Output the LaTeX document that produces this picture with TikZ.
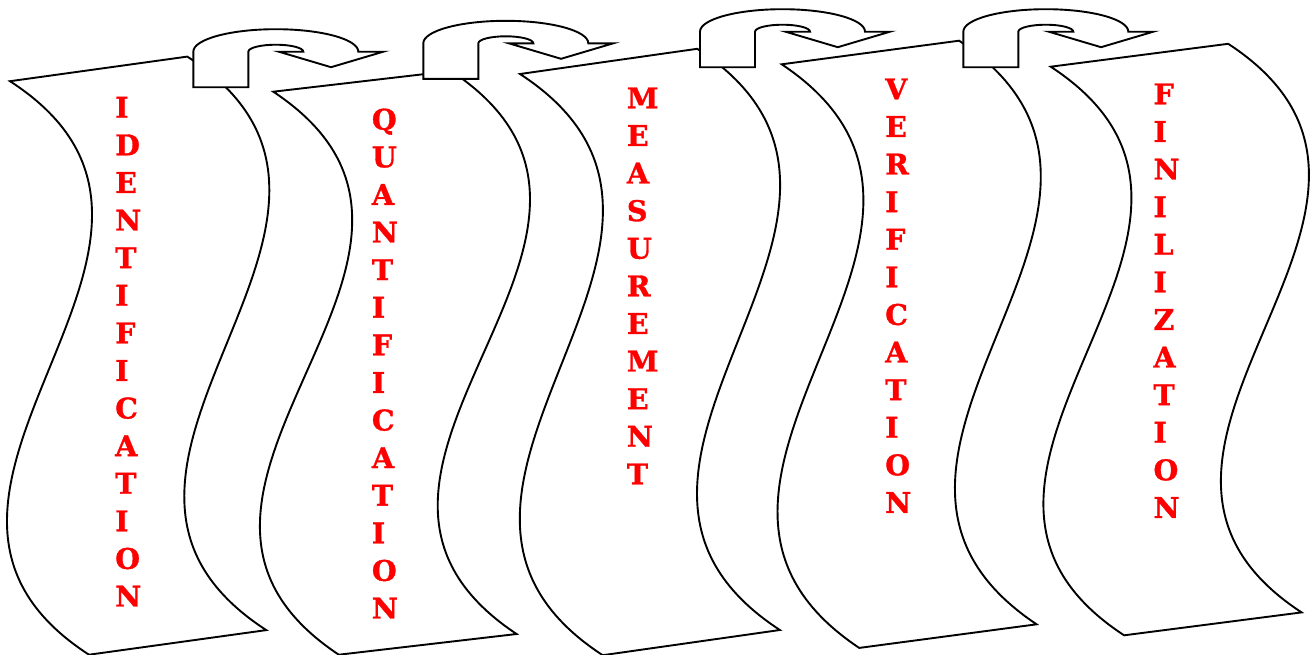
\documentclass[tikz,border=0pt]{standalone}
\usepackage{fontspec}
\newfontfamily\wordfont{DejaVu Serif}[BoldFeatures={FakeBold=1.2}]
\begin{document}
\begin{tikzpicture}[x=1pt,y=-1pt,
  bannerbox/.style={draw=black,fill=white,line width=1.9pt,line join=miter},
  uturn/.style={draw=black,fill=white,line width=1.9pt,line join=miter},
  word/.style={anchor=north west,inner sep=0pt,align=left,text=red,
    font={\wordfont\bfseries\fontsize{28.5}{37.6}\selectfont}}]
\useasboundingbox (0,0) rectangle (1313,654);
% banners: top-left corner, top vector u, down chord v
\foreach \tx/\ty/\ux/\uy/\vx/\vy in {
  10/81.2/177.3/-24.6/79.0/573.5,
  273.3/91.7/177.8/-20.7/65.5/563.0,
  520/74/177.2/-25.2/82.7/581.2,
  781.7/64.3/177.4/-23.6/77.5/583.6,
  1050.7/66.7/177.5/-22.9/73.4/568.6}{
  \path[bannerbox] (\tx,\ty)
    .. controls ({\tx+\vx/3+1.2486*(\ux)},{\ty+\vy/3+1.2486*(\uy)})
       and ({\tx+2*\vx/3-1.2486*(\ux)},{\ty+2*\vy/3-1.2486*(\uy)})
    .. ({\tx+\vx},{\ty+\vy})
    -- ({\tx+\vx+\ux},{\ty+\vy+\uy})
    .. controls ({\tx+\ux+2*\vx/3-1.2486*(\ux)},{\ty+\uy+2*\vy/3-1.2486*(\uy)})
       and ({\tx+\ux+\vx/3+1.2486*(\ux)},{\ty+\uy+\vy/3+1.2486*(\uy)})
    .. ({\tx+\ux},{\ty+\uy}) -- cycle;
}
% u-turn arrows
\foreach \ax/\ab in {193.3/51.7, 423.3/43.3, 700/31.7, 963.3/31.7}{
  \path[uturn] (\ax,\ab) -- ++(0,35.5) -- ++(55,0) -- ++(0,-35.5)
    arc[start angle=180,end angle=360,x radius=27.5,y radius=7]
    -- ++(-24.5,0) -- ++(52.25,15.5) -- ++(52.25,-15.5) -- ++(-25,0)
    arc[start angle=0,end angle=-180,x radius=82.5,y radius=22.5] -- cycle;
}
\node[word] (w1) at (115,96.7) {I\\D\\E\\N\\T\\I\\F\\I\\C\\A\\T\\I\\O\\N};
\node[word] (w2) at (371.7,108.3) {Q\\U\\A\\N\\T\\I\\F\\I\\C\\A\\T\\I\\O\\N};
\node[word] (w3) at (626.7,87.3) {M\\E\\A\\S\\U\\R\\E\\M\\E\\N\\T};
\node[word] (w4) at (885,78.3) {V\\E\\R\\I\\F\\I\\C\\A\\T\\I\\O\\N};
\node[word] (w5) at (1153.3,83.3) {F\\I\\N\\I\\L\\I\\Z\\A\\T\\I\\O\\N};
\end{tikzpicture}
\end{document}
